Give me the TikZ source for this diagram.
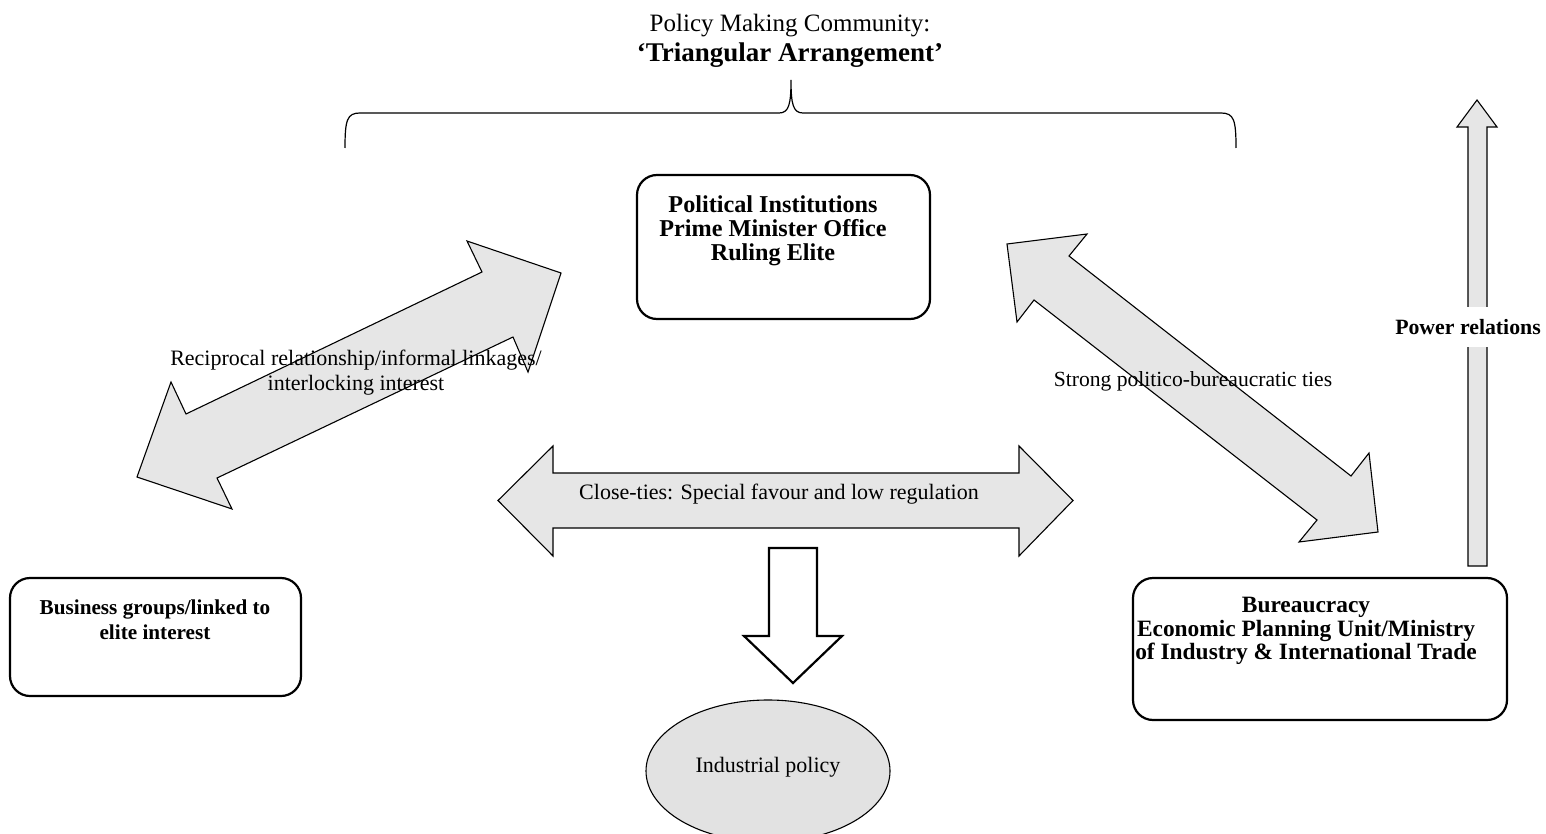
\documentclass[tikz,border=0pt]{standalone}
\usepackage{fontspec}
\setmainfont{Liberation Serif}
\usetikzlibrary{shapes.geometric}
\definecolor{blockfill}{RGB}{230,230,230}
\definecolor{ellfill}{RGB}{226,226,226}
\tikzset{
  box/.style={draw=black, line width=1.1pt, rounded corners=10pt, fill=white, inner sep=0pt},
  boxtext/.style={align=center, inner sep=0pt},
  plaintext/.style={font=\fontsize{11pt}{12.5pt}\selectfont, align=center, inner sep=0pt},
  block/.style={draw=black, line width=0.55pt, fill=blockfill, line join=miter},
  hollow/.style={draw=black, line width=1.1pt, fill=white, line join=miter},
  bracepath/.style={draw=black, line width=0.6pt}
}
\begin{document}
\begin{tikzpicture}[x=0.5pt,y=-0.5pt]
\useasboundingbox (0,0) rectangle (1546,834);
\fill[white] (0,0) rectangle (1546,834);

% title
\node[font=\fontsize{12.5pt}{14pt}\selectfont, inner sep=0pt] (title1) at (790,26) {Policy Making Community:};
\node[font=\fontsize{13.5pt}{15pt}\selectfont\bfseries, inner sep=0pt] (title2) at (790,55) {‘Triangular Arrangement’};

% brace
\coordinate (brL) at (345,148);
\coordinate (brT) at (791,80);
\coordinate (brR) at (1236,148);
\draw[bracepath] (brL) .. controls (345,120) and (347,113) .. (360,113) -- (779,113)
  .. controls (789,113) and (791,104) .. (brT)
  .. controls (791,104) and (793,113) .. (803,113) -- (1221,113)
  .. controls (1234,113) and (1236,120) .. (brR);

% boxes
\node[box, minimum width=146.5pt, minimum height=72pt] (pol) at (783.5,247) {};
\node[boxtext, font=\fontsize{12.1pt}{12pt}\selectfont\bfseries] (poltext) at (773,231) {Political Institutions\\Prime Minister Office\\Ruling Elite};

\node[box, minimum width=145.5pt, minimum height=59pt] (bus) at (155.5,637) {};
\node[boxtext, font=\fontsize{10.6pt}{12.3pt}\selectfont\bfseries] (bustext) at (155,620) {Business groups/linked to\\elite interest};

\node[box, minimum width=187pt, minimum height=71pt] (bur) at (1320,649) {};
\node[boxtext, font=\fontsize{11.7pt}{11.8pt}\selectfont\bfseries] (burtext) at (1306,631) {Bureaucracy\\Economic Planning Unit/Ministry\\of Industry \& International Trade};

% ellipse (slightly cut by the lower edge of the picture)
\begin{scope}
\clip (0,0) rectangle (1546,834);
\node[ellipse, draw=black, line width=0.55pt, fill=ellfill, minimum width=122pt, minimum height=71pt, inner sep=0pt] (ind) at (768,771) {};
\end{scope}
\node[plaintext] (indtext) at (768,767) {Industrial policy};

% left diagonal double arrow
\draw[block] (561,273) -- (528,372) -- (513,337) -- (217,478) -- (232,509) -- (137,477)
  -- (171,382) -- (186,414) -- (482,272) -- (467,241) -- cycle;
\node[plaintext] (lefttext) at (356,373) {Reciprocal relationship/informal linkages/\\interlocking interest};

% right diagonal double arrow
\draw[block] (1007,244) -- (1087,234) -- (1069,256) -- (1351,476) -- (1369,453) -- (1378,532)
  -- (1299,542) -- (1317,520) -- (1034,300) -- (1017,322) -- cycle;
\node[plaintext, font=\fontsize{10.8pt}{12.5pt}\selectfont] (righttext) at (1193,381) {Strong politico-bureaucratic ties};

% horizontal double arrow
\draw[block] (498,500.5) -- (553,446) -- (553,473) -- (1019,473) -- (1019,446) -- (1073,500.5)
  -- (1019,556) -- (1019,528) -- (553,528) -- (553,556) -- cycle;
\node[plaintext] (midtext) at (779,494) {Close-ties: Special favour and low regulation};

% down arrow
\draw[hollow] (769,548) -- (817,548) -- (817,636) -- (842,636) -- (793,683) -- (744,636) -- (769,636) -- cycle;

% power arrow
\draw[block] (1468,566) -- (1468,127) -- (1457,127) -- (1477,100) -- (1497,127) -- (1487,127) -- (1487,566) -- cycle;
\node[boxtext, font=\fontsize{10.9pt}{12pt}\selectfont\bfseries, fill=white, minimum height=20pt, inner xsep=1pt] (powtext) at (1468,327) {Power relations};
\end{tikzpicture}
\end{document}
